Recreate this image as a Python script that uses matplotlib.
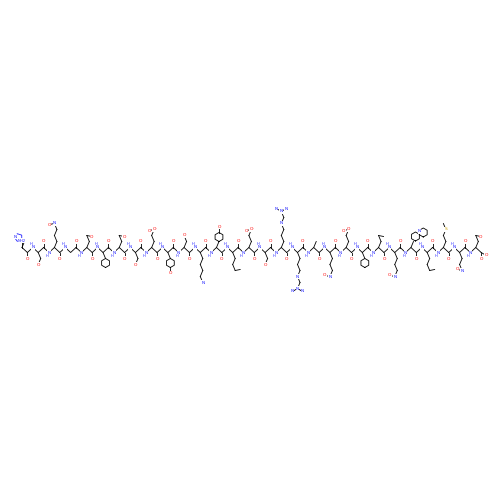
import numpy as np
import matplotlib
matplotlib.use("Agg")
import matplotlib.pyplot as plt

# glucagon sequence
sequence = list("HSQGTFTSDYSKYLDSRRAQDFVQWLMNT")
side_chains = {
    'H': (['C'], 'imid'), 'S': (['C', 'O'], None), 'Q': (['C', 'C', 'C', 'N'], 'amide'),
    'G': ([], None), 'T': (['C', 'C'], 'thr'), 'F': (['C'], 'ph'), 'D': (['C', 'C', 'O'], 'acid'),
    'Y': (['C'], 'tyr'), 'K': (['C', 'C', 'C', 'C', 'N'], None), 'L': (['C', 'C', 'C'], 'leu'),
    'R': (['C', 'C', 'C', 'N', 'C', 'N'], 'guan'), 'A': (['C'], None), 'V': (['C', 'C'], 'leu'),
    'W': (['C'], 'indole'), 'M': (['C', 'C', 'S', 'C'], None), 'N': (['C', 'C', 'N'], 'amide'),
}
colors = {'N': '#2020ff', 'H': '#2020ff', 'O': '#ff0000', 'S': '#c8a000', 'C': 'k'}

fig = plt.figure(figsize=(5, 5), dpi=100)
ax = fig.add_axes([0, 0, 1, 1])
ax.set_xlim(0, 500); ax.set_ylim(500, 0); ax.axis('off')
lw = 0.6
bl = 6.0

def label(x, y, t, fs=3.2):
    ax.text(x, y, t, color=colors.get(t[0], 'k'), fontsize=fs, ha='center', va='center',
            bbox=dict(boxstyle='square,pad=0.05', fc='white', ec='none'), zorder=3)

def hexagon(cx, cy, r, start):
    a = np.deg2rad(start + 60 * np.arange(7))
    ax.plot(cx + r * np.cos(a), cy + r * np.sin(a), 'k-', lw=lw)

x0, y0 = 22, 250
dx = 470 / (len(sequence) * 3)
px, py = x0 - dx, y0
for i, aa in enumerate(sequence):
    up = (i % 2 == 0)
    s = -1 if up else 1
    xs = [x0 - dx + (3 * i + k) * dx for k in range(3)]
    ys = [y0 + 2.5, y0 - 2.5, y0 + 2.5] if up else [y0 - 2.5, y0 + 2.5, y0 - 2.5]
    if i == 0:
        ax.plot(xs[1:], ys[1:], 'k-', lw=lw)
        ax.plot([xs[1], xs[1]], [ys[1], ys[1] - 7], 'k-', lw=lw)
        label(xs[1], ys[1] - 7, 'NH2', fs=2.8)
    else:
        ax.plot([px] + xs, [py] + ys, 'k-', lw=lw)
        label(xs[0], ys[0], 'N')
        ax.text(xs[0] - 2, ys[0] + (3.5 if ys[0] > y0 else -3.5), 'H', color=colors['H'],
                fontsize=2.6, ha='center', va='center', zorder=3)
    ax.plot([xs[2], xs[2]], [ys[2], ys[2] - s * bl], 'k-', lw=lw)
    label(xs[2], ys[2] - s * bl, 'O')
    px, py = xs[2], ys[2]
    atoms, kind = side_chains[aa]
    cx, cy = xs[1], ys[1]
    for j, a in enumerate(atoms):
        nx = cx + (2.5 if j % 2 == 0 else -2.5)
        ny = cy + s * bl
        ax.plot([cx, nx], [cy, ny], 'k-', lw=lw)
        cx, cy = nx, ny
        if a != 'C':
            label(cx, cy, a)
    if kind in ('ph', 'tyr'):
        r = 4.5
        hexagon(cx, cy + s * r, r, 90)
        if kind == 'tyr':
            ax.plot([cx, cx], [cy + s * 2 * r, cy + s * (2 * r + bl)], 'k-', lw=lw)
            label(cx, cy + s * (2 * r + bl), 'O')
    elif kind == 'imid':
        a = np.deg2rad(90 * s + 72 * np.arange(6))
        r = 4
        ax.plot(cx - 6 + r * np.sin(a), cy + s * r + r * np.cos(a) * s, '-', color='#2020ff', lw=lw)
        ax.plot([cx, cx - 3], [cy, cy - 2], 'k-', lw=lw)
        label(cx - 9, cy + s * 5, 'N')
    elif kind == 'indole':
        r = 4.5
        hexagon(cx + 2, cy + s * 5, r, 90)
        hexagon(cx + 9.8, cy + s * 9, r, 90)
        label(cx + 6, cy + s * 10, 'N')
    elif kind in ('amide', 'acid'):
        ax.plot([cx, cx - 5], [cy, cy - s * 1], 'k-', lw=lw)
        label(cx - 5, cy - s * 1, 'O')
        if kind == 'acid':
            label(cx, cy, 'O')
    elif kind == 'guan':
        ax.plot([cx, cx - 5], [cy, cy + s * 3], 'k-', lw=lw)
        ax.plot([cx, cx + 5], [cy, cy + s * 3], 'k-', lw=lw)
        label(cx - 5, cy + s * 3, 'N')
        label(cx + 5, cy + s * 3, 'N')
    elif kind in ('leu', 'thr'):
        ax.plot([cx, cx + 5], [cy, cy - s * 1], 'k-', lw=lw)
        if kind == 'thr':
            label(cx + 5, cy - s * 1, 'O')
ax.plot([px, px + 5], [py, py + 3], 'k-', lw=lw)
label(px + 5, py + 3, 'O')
fig.savefig("out.png", dpi=100, facecolor='white')
